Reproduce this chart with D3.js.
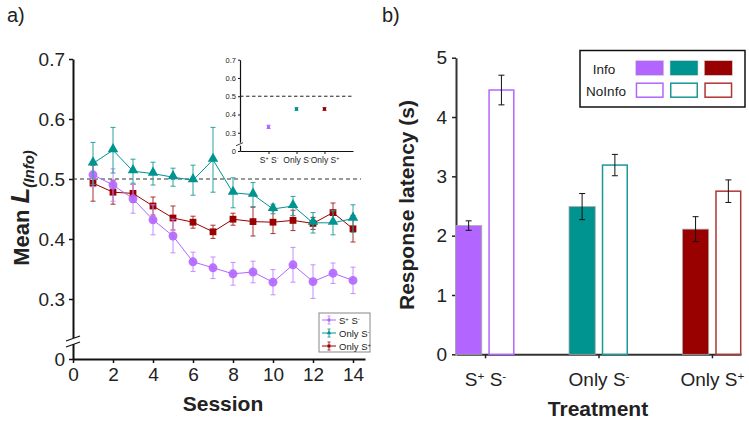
<!DOCTYPE html>
<html><head><meta charset="utf-8">
<script src="https://cdn.jsdelivr.net/npm/d3@7"></script>
<style>
html,body{margin:0;padding:0;background:#fff;}
svg text{font-family:"Liberation Sans",Arial,Helvetica,sans-serif;fill:#222;}
</style></head>
<body>
<svg id="chart" width="749" height="421"></svg>
<script>
// ---------- Panel a data ----------
const sessions = [1,2,3,4,5,6,7,8,9,10,11,12,13,14];
const seriesNames = ["S+ S-", "Only S-", "Only S+"];
const meanSS = [0.507,0.490,0.467,0.432,0.405,0.362,0.352,0.342,0.345,0.328,0.357,0.329,0.343,0.331];
const errSS  = [0.020,0.027,0.024,0.025,0.028,0.016,0.018,0.019,0.018,0.021,0.029,0.028,0.017,0.022];
const meanOnlyMinus = [0.526,0.548,0.513,0.509,0.503,0.498,0.532,0.477,0.474,0.450,0.455,0.427,0.427,0.434];
const errOnlyMinus  = [0.035,0.038,0.020,0.019,0.015,0.025,0.054,0.025,0.020,0.008,0.016,0.017,0.020,0.023];
const meanOnlyPlus = [0.493,0.478,0.476,0.455,0.435,0.428,0.412,0.433,0.429,0.428,0.431,0.426,0.444,0.417];
const errOnlyPlus  = [0.030,0.020,0.015,0.015,0.020,0.010,0.011,0.010,0.024,0.019,0.017,0.010,0.016,0.022];
const sessionTicks = [0,2,4,6,8,10,12,14];
const yTicksA = [0.2,0.3,0.4,0.5,0.6,0.7];
const yTickLabelsA = ["0","0.3","0.4","0.5","0.6","0.7"];
const chanceLevel = 0.5;
// inset
const insetMeans = [0.332,0.430,0.430];
const insetErr = [0.009,0.007,0.007];

// ---------- Panel b data ----------
const treatments = ["S+ S-", "Only S-", "Only S+"];
const conditions = ["Info","NoInfo"];
const latencyInfo = [2.17, 2.49, 2.11];
const latencyInfoErr = [0.08, 0.22, 0.21];
const latencyNoInfo = [4.455, 3.19, 2.75];
const latencyNoInfoErr = [0.25, 0.18, 0.19];
const yTicksB = [0,1,2,3,4,5];

const colors = ["#b266ff", "#009490", "#990000"];
const errColors = ["#c58cff", "#2aa3a0", "#a83030"];
const outlineColors = ["#b266ff", "#1a9996", "#b03535"];

const svg = d3.select("#chart");
const FONT = '"Liberation Sans",Arial,Helvetica,sans-serif';

// helper for category labels with super scripts
function catLabel(sel, name, size){
  sel.text(null);
  const parts = name === "S+ S-" ? [["S",""],["+","sup"],[" S",""],["-","sup"]]
              : name === "Only S-" ? [["Only S",""],["-","sup"]]
              : [["Only S",""],["+","sup"]];
  parts.forEach(([t,k])=>{
    const ts = sel.append("tspan").text(t);
    if(k==="sup"){ ts.attr("font-size", size*0.62).attr("baseline-shift","super"); }
  });
}

// ================= PANEL A =================
const xA = d3.scaleLinear().domain([0,14.6]).range([73,365]);
const yA = d3.scaleLinear().domain([0.2,0.7]).range([359,59]);

svg.append("text").attr("x",7).attr("y",22).attr("font-size",20).text("a)");

// axes
const gyA = svg.append("g").attr("transform","translate(73,0)")
  .call(d3.axisLeft(yA).tickValues(yTicksA).tickFormat((d,i)=>yTickLabelsA[i]).tickSize(4).tickSizeOuter(0));
const gxA = svg.append("g").attr("transform","translate(0,359)")
  .call(d3.axisBottom(xA).tickValues(sessionTicks).tickSize(4).tickSizeOuter(0));
[gyA,gxA].forEach(g=>{
  g.select(".domain").attr("stroke","#111").attr("stroke-width",2);
  g.selectAll(".tick line").attr("stroke","#111").attr("stroke-width",1.5);
  g.selectAll(".tick text").attr("font-size",19).attr("font-family",FONT).attr("fill","#222");
});
gyA.selectAll(".tick text").attr("x",-8);
gxA.selectAll(".tick text").attr("y",9);

// axis break
svg.append("rect").attr("x",70).attr("y",yA(0.235)).attr("width",6).attr("height",6).attr("fill","#fff");
[0,6].forEach(o=>{
  svg.append("line").attr("x1",66).attr("x2",80).attr("y1",yA(0.235)+3+o).attr("y2",yA(0.235)-2+o)
    .attr("stroke","#111").attr("stroke-width",1.2);
});

// chance line
svg.append("line").attr("x1",xA(0)).attr("x2",xA(14.4)).attr("y1",yA(chanceLevel)).attr("y2",yA(chanceLevel))
  .attr("stroke","#333").attr("stroke-width",1.2).attr("stroke-dasharray","4,3");

const seriesA = [
  {means:meanSS, errs:errSS, shape:d3.symbolCircle, size:62},
  {means:meanOnlyMinus, errs:errOnlyMinus, shape:d3.symbolTriangle, size:48},
  {means:meanOnlyPlus, errs:errOnlyPlus, shape:d3.symbolSquare, size:46}
];
const drawOrder = [2,0,1];
const line = d3.line();
drawOrder.forEach(si=>{
  const s = seriesA[si];
  const g = svg.append("g");
  sessions.forEach((x,i)=>{
    const cx = xA(x), y1 = yA(s.means[i]-s.errs[i]), y2 = yA(s.means[i]+s.errs[i]);
    g.append("line").attr("x1",cx).attr("x2",cx).attr("y1",y1).attr("y2",y2).attr("stroke",errColors[si]).attr("stroke-width",1);
    [y1,y2].forEach(y=>g.append("line").attr("x1",cx-2.5).attr("x2",cx+2.5).attr("y1",y).attr("y2",y).attr("stroke",errColors[si]).attr("stroke-width",1));
  });
  g.append("path").attr("d", line(sessions.map((x,i)=>[xA(x), yA(s.means[i])])))
    .attr("fill","none").attr("stroke",colors[si]).attr("stroke-width",1);
  sessions.forEach((x,i)=>{
    g.append("path").attr("d", d3.symbol(s.shape, s.size)())
      .attr("transform",`translate(${xA(x)},${yA(s.means[i]) + (si===1?-1:0)})`)
      .attr("fill",colors[si]).attr("opacity", si===0?0.9:1);
  });
});

// x label / y label
svg.append("text").attr("x",223).attr("y",411).attr("text-anchor","middle")
  .attr("font-size",21).attr("font-weight","bold").text("Session");
const yl = svg.append("text").attr("transform","translate(29,208) rotate(-90)").attr("text-anchor","middle")
  .attr("font-size",22).attr("font-weight","bold");
yl.append("tspan").text("Mean ");
yl.append("tspan").attr("font-style","italic").attr("font-size",26).text("L");
yl.append("tspan").attr("font-style","italic").attr("font-size",15).attr("dy",5).text("(Info)");

// legend a
const lg = svg.append("g");
lg.append("rect").attr("x",319).attr("y",313).attr("width",51).attr("height",39)
  .attr("fill","#fff").attr("stroke","#888").attr("stroke-width",1);
seriesNames.forEach((n,i)=>{
  const y = 320 + i*13;
  lg.append("line").attr("x1",322).attr("x2",336).attr("y1",y).attr("y2",y).attr("stroke",colors[i]).attr("stroke-width",1);
  lg.append("line").attr("x1",329).attr("x2",329).attr("y1",y-4).attr("y2",y+4).attr("stroke",errColors[i]).attr("stroke-width",1);
  [y-4,y+4].forEach(yy=>lg.append("line").attr("x1",327.5).attr("x2",330.5).attr("y1",yy).attr("y2",yy).attr("stroke",errColors[i]));
  lg.append("path").attr("d", d3.symbol(seriesA[i].shape, 9)()).attr("transform",`translate(329,${y})`).attr("fill",colors[i]);
  const t = lg.append("text").attr("x",339).attr("y",y+3.5).attr("font-size",9.5);
  catLabel(t, n, 9.5);
});

// ---------- inset ----------
const xI = d3.scalePoint().domain(treatments).range([240,353]).padding(1.02);
const yI = d3.scaleLinear().domain([0.2,0.7]).range([151,59.7]);
const gyI = svg.append("g").attr("transform","translate(240,0)")
  .call(d3.axisLeft(yI).tickValues(yTicksA).tickFormat((d,i)=>yTickLabelsA[i]).tickSize(2).tickSizeOuter(0));
const gxI = svg.append("g").attr("transform","translate(0,151)")
  .call(d3.axisBottom(xI).tickSize(3).tickSizeOuter(0));
[gyI,gxI].forEach(g=>{
  g.select(".domain").attr("stroke","#111").attr("stroke-width",1.2);
  g.selectAll(".tick line").attr("stroke","#111");
  g.selectAll(".tick text").attr("font-size",7.5).attr("font-family",FONT).attr("fill","#222");
});
gyI.selectAll(".tick text").attr("x",-4);
gxI.selectAll(".tick text").attr("y",6).attr("font-size",8.5).each(function(d){ catLabel(d3.select(this), d, 8.5); });
svg.append("rect").attr("x",238).attr("y",yI(0.24)-1).attr("width",4).attr("height",3).attr("fill","#fff");
svg.append("line").attr("x1",236).attr("x2",243).attr("y1",yI(0.24)+2).attr("y2",yI(0.24)-1).attr("stroke","#111").attr("stroke-width",0.8);
svg.append("line").attr("x1",240).attr("x2",353).attr("y1",yI(chanceLevel)).attr("y2",yI(chanceLevel))
  .attr("stroke","#222").attr("stroke-width",1).attr("stroke-dasharray","3.5,2.5");
treatments.forEach((t,i)=>{
  const cx = xI(t), y1 = yI(insetMeans[i]-insetErr[i]), y2 = yI(insetMeans[i]+insetErr[i]);
  svg.append("line").attr("x1",cx).attr("x2",cx).attr("y1",y1).attr("y2",y2).attr("stroke",colors[i]).attr("stroke-width",1);
  [y1,y2].forEach(y=>svg.append("line").attr("x1",cx-2).attr("x2",cx+2).attr("y1",y).attr("y2",y).attr("stroke",colors[i]).attr("stroke-width",1));
  svg.append("rect").attr("x",cx-1.5).attr("y",yI(insetMeans[i])-1.5).attr("width",3).attr("height",3).attr("fill",colors[i]);
});

// ================= PANEL B =================
const xB = d3.scalePoint().domain(treatments).range([456,741]).padding(0.256);
const xSub = d3.scaleBand().domain(conditions).range([-29.5,29.5]).paddingInner(0.2);
const yB = d3.scaleLinear().domain([0,5]).range([354.3,57.7]);

svg.append("text").attr("x",382).attr("y",22).attr("font-size",20).text("b)");

const gyB = svg.append("g").attr("transform","translate(456,0)")
  .call(d3.axisLeft(yB).tickValues(yTicksB).tickFormat(d3.format("d")).tickSize(4).tickSizeOuter(0));
const gxB = svg.append("g").attr("transform","translate(0,354.3)")
  .call(d3.axisBottom(xB).tickSize(4).tickSizeOuter(0));
[gyB,gxB].forEach(g=>{
  g.select(".domain").attr("stroke","#333").attr("stroke-width",2);
  g.selectAll(".tick line").attr("stroke","#222").attr("stroke-width",1.5);
  g.selectAll(".tick text").attr("font-size",19).attr("font-family",FONT).attr("fill","#222");
});
gyB.selectAll(".tick text").attr("x",-9);
gxB.selectAll(".tick text").attr("y",18).each(function(d){ catLabel(d3.select(this), d, 19); });

treatments.forEach((t,i)=>{
  const c = xB(t);
  const vals = [latencyInfo[i], latencyNoInfo[i]];
  const errs = [latencyInfoErr[i], latencyNoInfoErr[i]];
  conditions.forEach((cond,j)=>{
    const x = c + xSub(cond), w = xSub.bandwidth();
    if(j===0){
      svg.append("rect").attr("x",x).attr("y",yB(vals[j])).attr("width",w).attr("height",yB(0)-yB(vals[j]))
        .attr("fill",colors[i]).attr("stroke","#aaa").attr("stroke-width",0.8);
    } else {
      svg.append("rect").attr("x",x+0.75).attr("y",yB(vals[j])).attr("width",w-1.5).attr("height",yB(0)-yB(vals[j]))
        .attr("fill","#fff").attr("stroke",outlineColors[i]).attr("stroke-width",1.5);
    }
    const cx = x + w/2, y1 = yB(vals[j]-errs[j]), y2 = yB(vals[j]+errs[j]);
    svg.append("line").attr("x1",cx).attr("x2",cx).attr("y1",y1).attr("y2",y2).attr("stroke","#111").attr("stroke-width",1);
    [y1,y2].forEach(y=>svg.append("line").attr("x1",cx-3).attr("x2",cx+3).attr("y1",y).attr("y2",y).attr("stroke","#111").attr("stroke-width",1));
  });
});

svg.append("text").attr("x",598).attr("y",416).attr("text-anchor","middle")
  .attr("font-size",21).attr("font-weight","bold").text("Treatment");
svg.append("text").attr("transform","translate(414,205) rotate(-90)").attr("text-anchor","middle")
  .attr("font-size",21).attr("font-weight","bold").text("Response latency (s)");

// legend b
const lb = svg.append("g");
lb.append("rect").attr("x",580).attr("y",50.5).attr("width",165).attr("height",56.5)
  .attr("fill","#fff").attr("stroke","#111").attr("stroke-width",1.5);
lb.append("text").attr("x",604).attr("y",74).attr("text-anchor","middle").attr("font-size",13.5).text("Info");
lb.append("text").attr("x",606).attr("y",95.5).attr("text-anchor","middle").attr("font-size",13.5).text("NoInfo");
const swX = [635.7, 670, 704.3];
colors.forEach((c,i)=>{
  lb.append("rect").attr("x",swX[i]).attr("y",60.7).attr("width",28).attr("height",14.6).attr("fill",c).attr("stroke","#ccc").attr("stroke-width",0.6);
  lb.append("rect").attr("x",swX[i]+0.75).attr("y",83.2).attr("width",26.5).attr("height",14).attr("fill","#fff").attr("stroke",outlineColors[i]).attr("stroke-width",1.5);
});
</script>
</body></html>
